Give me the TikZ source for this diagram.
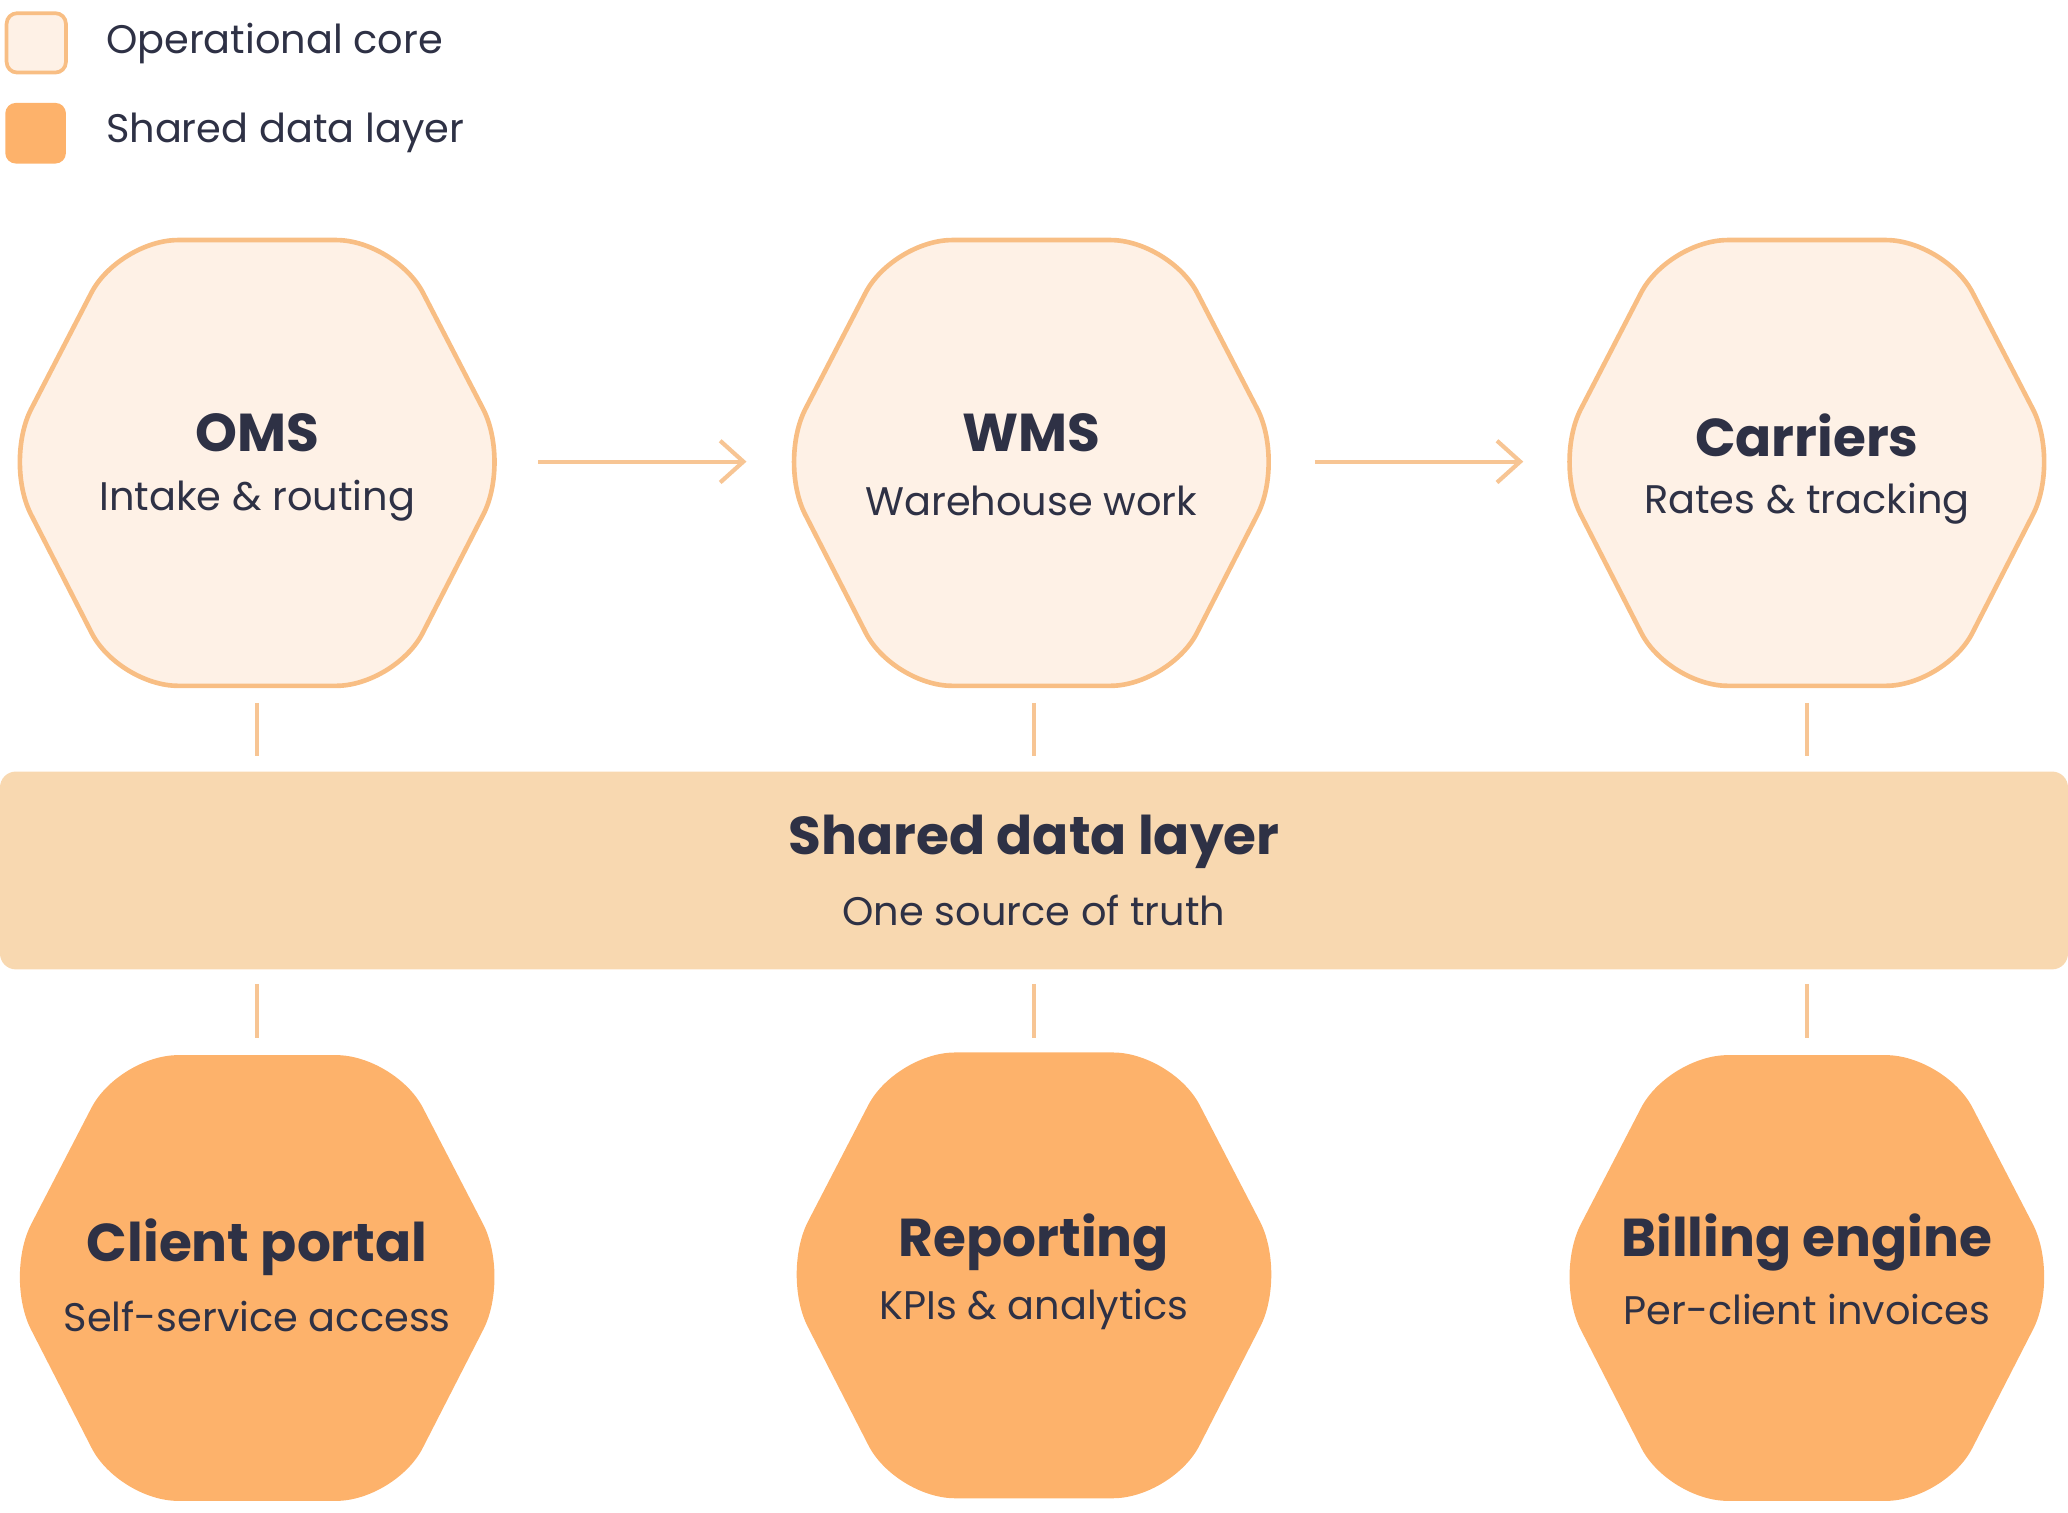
\documentclass[tikz,border=0pt]{standalone}
\usepackage{fontspec}
\setmainfont{Poppins}
\usetikzlibrary{arrows.meta}
\definecolor{ink}{HTML}{2E3145}
\definecolor{lightfill}{HTML}{FEF1E6}
\definecolor{edge}{HTML}{F8BE84}
\definecolor{darkfill}{HTML}{FDB26B}
\definecolor{band}{HTML}{F8D8B0}
\definecolor{conn}{HTML}{F7C594}
\begin{document}
\begin{tikzpicture}[x=0.01cm,y=-0.01cm,
  hexlight/.style={fill=lightfill,draw=edge,line width=1pt,rounded corners=0.45cm},
  hexdark/.style={fill=darkfill,draw=none,rounded corners=0.45cm},
  title/.style={font=\fontsize{11.5}{13}\selectfont\bfseries,text=ink},
  sub/.style={font=\fontsize{8.6}{10}\selectfont,text=ink},
  conn/.style={draw=conn,line width=0.9pt},
  arr/.style={conn,-{Straight Barb[length=5pt,width=9pt]}},
  legend/.style={font=\fontsize{8.6}{10}\selectfont,text=ink,anchor=west}]
\useasboundingbox (0,0) rectangle (1568,1147);
% legend
\draw[fill=lightfill,draw=edge,line width=0.8pt,rounded corners=0.08cm] (5,10) rectangle (50,55);
\node[legend] (lg1) at (68,33) {Operational core};
\fill[darkfill,rounded corners=0.08cm] (4,78) rectangle (50,124);
\node[legend] (lg2) at (68,101) {Shared data layer};
% hexagon helper
\def\hexpath#1#2{(#1-105,#2-168) -- (#1+105,#2-168) -- (#1+192,#2) -- (#1+105,#2+170) -- (#1-105,#2+170) -- (#1-192,#2) -- cycle}
\draw[hexlight] \hexpath{195}{350};
\draw[hexlight] \hexpath{782}{350};
\draw[hexlight] \hexpath{1370}{350};
\fill[hexdark] \hexpath{195}{968};
\fill[hexdark] \hexpath{784}{966};
\fill[hexdark] \hexpath{1370}{968};
% texts
\node[title] (oms) at (195,328) {OMS};
\node[sub] (omss) at (195,380) {Intake \& routing};
\node[title] (wms) at (782,328) {WMS};
\node[sub] (wmss) at (782,380) {Warehouse work};
\node[title] (car) at (1370,330) {Carriers};
\node[sub] (cars) at (1370,382) {Rates \& tracking};
\node[title] (cp) at (195,946) {Client portal};
\node[sub] (cps) at (195,998) {Self-service access};
\node[title] (rep) at (784,942) {Reporting};
\node[sub] (reps) at (784,993) {KPIs \& analytics};
\node[title] (bil) at (1370,942) {Billing engine};
\node[sub] (bils) at (1370,993) {Per-client invoices};
% band
\fill[band,rounded corners=0.12cm] (0,585) rectangle (1568,735);
\node[title] (sdl) at (784,638) {Shared data layer};
\node[sub] (sdls) at (784,690) {One source of truth};
% connectors
\coordinate (a1) at (408,350); \coordinate (a2) at (566,350);
\coordinate (a3) at (997,350); \coordinate (a4) at (1155,350);
\draw[arr] (a1) -- (a2);
\draw[arr] (a3) -- (a4);
\foreach \x [count=\i] in {195,784,1370}{
  \coordinate (t\i) at (\x,533); \coordinate (u\i) at (\x,573);
  \coordinate (v\i) at (\x,746); \coordinate (w\i) at (\x,787);
  \draw[conn] (t\i) -- (u\i);
  \draw[conn] (v\i) -- (w\i);
}
\end{tikzpicture}
\end{document}
